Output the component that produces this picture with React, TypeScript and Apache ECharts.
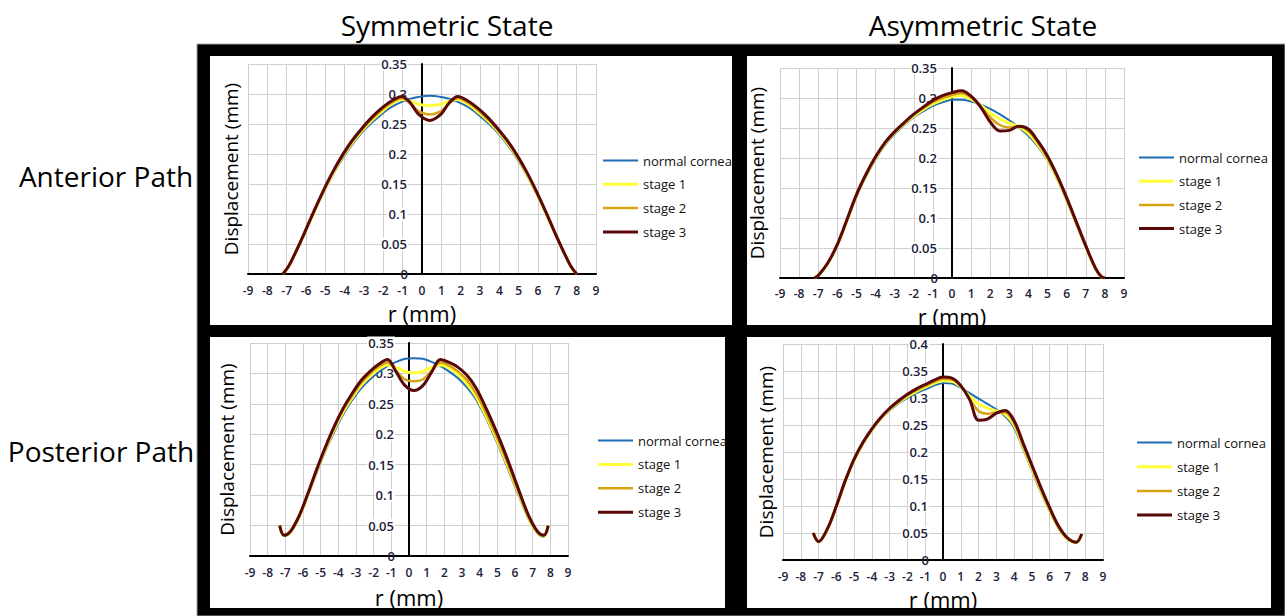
import React, { useEffect, useRef } from "react";
import * as echarts from "echarts";

const FONT = "'Open Sans', 'Noto Sans', sans-serif";

const seriesNames = ["normal cornea", "stage 1", "stage 2", "stage 3"];
const columnTitles = ["Symmetric State", "Asymmetric State"];
const rowTitles = ["Anterior Path", "Posterior Path"];
const xAxisTitle = "r (mm)";
const yAxisTitle = "Displacement (mm)";
const xRange = [-9, 9];
const xStep = 1;
const yStep = 0.05;
const yMaxes = [0.35, 0.35, 0.35, 0.4];

// ---- Symmetric state, anterior path ----
const symAntX = [-7.2, -6.9, -6.6, -6.1, -5.6, -5.1, -4.6, -4.1, -3.6, -3.1, -2.6, -2.1, -1.6, -1.05, -0.6, -0.2, 0.4, 1.0, 1.4, 1.85, 2.4, 2.9, 3.4, 3.9, 4.4, 4.9, 5.4, 5.9, 6.4, 6.9, 7.4, 7.7, 8.0];
const symAntNormal = [0, 0.012, 0.031, 0.065, 0.101, 0.135, 0.166, 0.193, 0.216, 0.236, 0.252, 0.266, 0.278, 0.287, 0.292, 0.295, 0.297, 0.295, 0.292, 0.287, 0.278, 0.266, 0.252, 0.236, 0.216, 0.193, 0.166, 0.135, 0.101, 0.065, 0.031, 0.012, 0];
const symAntStage1 = [0, 0.012, 0.032, 0.066, 0.102, 0.137, 0.168, 0.196, 0.219, 0.239, 0.256, 0.27, 0.283, 0.291, 0.288, 0.283, 0.281, 0.283, 0.288, 0.291, 0.283, 0.27, 0.256, 0.239, 0.219, 0.196, 0.168, 0.137, 0.102, 0.066, 0.032, 0.012, 0];
const symAntStage2 = [0, 0.013, 0.032, 0.067, 0.103, 0.138, 0.17, 0.197, 0.221, 0.241, 0.258, 0.273, 0.285, 0.293, 0.284, 0.272, 0.266, 0.272, 0.284, 0.293, 0.285, 0.273, 0.258, 0.241, 0.221, 0.197, 0.17, 0.138, 0.103, 0.067, 0.032, 0.013, 0];
const symAntStage3 = [0, 0.013, 0.032, 0.067, 0.104, 0.139, 0.171, 0.199, 0.223, 0.243, 0.261, 0.276, 0.288, 0.296, 0.285, 0.267, 0.256, 0.267, 0.285, 0.296, 0.288, 0.276, 0.261, 0.243, 0.223, 0.199, 0.171, 0.139, 0.104, 0.067, 0.032, 0.013, 0];

// ---- Asymmetric state, anterior path ----
const asymAntX = [-7.2, -7.0, -6.5, -6.0, -5.5, -5.0, -4.5, -4.0, -3.5, -3.0, -2.5, -2.0, -1.5, -1.0, -0.5, 0, 0.5, 1.0, 1.5, 2.0, 2.5, 3.0, 3.5, 4.0, 4.5, 5.0, 5.5, 6.0, 6.5, 7.0, 7.5, 7.8, 8.0];
const asymAntNormal = [0, 0.004, 0.024, 0.054, 0.094, 0.135, 0.169, 0.198, 0.222, 0.24, 0.255, 0.268, 0.278, 0.287, 0.293, 0.297, 0.297, 0.294, 0.289, 0.282, 0.273, 0.263, 0.251, 0.237, 0.219, 0.196, 0.165, 0.129, 0.09, 0.051, 0.016, 0.002, 0];
const asymAntStage1 = [0, 0.004, 0.024, 0.055, 0.095, 0.137, 0.171, 0.2, 0.224, 0.242, 0.257, 0.27, 0.281, 0.29, 0.297, 0.302, 0.304, 0.298, 0.288, 0.275, 0.265, 0.258, 0.252, 0.241, 0.222, 0.198, 0.167, 0.131, 0.092, 0.052, 0.016, 0.002, 0];
const asymAntStage2 = [0, 0.004, 0.025, 0.055, 0.096, 0.138, 0.172, 0.201, 0.225, 0.243, 0.258, 0.272, 0.283, 0.293, 0.3, 0.305, 0.308, 0.301, 0.285, 0.268, 0.255, 0.251, 0.253, 0.245, 0.225, 0.2, 0.169, 0.132, 0.093, 0.053, 0.016, 0.002, 0];
const asymAntStage3 = [0, 0.004, 0.025, 0.056, 0.097, 0.139, 0.173, 0.202, 0.226, 0.244, 0.259, 0.273, 0.285, 0.296, 0.304, 0.309, 0.312, 0.303, 0.285, 0.26, 0.245, 0.246, 0.253, 0.248, 0.228, 0.203, 0.171, 0.134, 0.094, 0.054, 0.017, 0.003, 0];

// ---- Symmetric state, posterior path ----
const symPostX = [-7.32, -7.07, -6.72, -6.22, -5.72, -5.22, -4.72, -4.22, -3.72, -3.22, -2.72, -2.22, -1.72, -1.22, -0.72, -0.22, 0.28, 0.78, 1.28, 1.78, 2.28, 2.78, 3.28, 3.78, 4.28, 4.78, 5.28, 5.78, 6.28, 6.78, 7.28, 7.63, 7.88];
const symPostNormal = [0.048, 0.033, 0.038, 0.063, 0.099, 0.137, 0.173, 0.205, 0.233, 0.256, 0.275, 0.29, 0.302, 0.312, 0.319, 0.324, 0.325, 0.324, 0.319, 0.312, 0.303, 0.292, 0.277, 0.258, 0.231, 0.2, 0.166, 0.13, 0.094, 0.06, 0.037, 0.032, 0.047];
const symPostStage1 = [0.049, 0.034, 0.039, 0.064, 0.101, 0.14, 0.176, 0.209, 0.237, 0.26, 0.28, 0.295, 0.307, 0.314, 0.31, 0.303, 0.301, 0.303, 0.31, 0.314, 0.309, 0.298, 0.283, 0.263, 0.235, 0.204, 0.17, 0.134, 0.097, 0.062, 0.038, 0.033, 0.048];
const symPostStage2 = [0.05, 0.034, 0.04, 0.065, 0.102, 0.141, 0.178, 0.211, 0.24, 0.263, 0.284, 0.299, 0.311, 0.318, 0.304, 0.29, 0.287, 0.29, 0.304, 0.318, 0.313, 0.303, 0.289, 0.268, 0.24, 0.208, 0.174, 0.137, 0.099, 0.063, 0.039, 0.034, 0.049];
const symPostStage3 = [0.05, 0.034, 0.04, 0.066, 0.103, 0.143, 0.18, 0.214, 0.243, 0.267, 0.288, 0.303, 0.315, 0.323, 0.302, 0.28, 0.272, 0.28, 0.302, 0.323, 0.318, 0.31, 0.297, 0.277, 0.248, 0.216, 0.181, 0.143, 0.103, 0.066, 0.04, 0.034, 0.05];

// ---- Asymmetric state, posterior path ----
const asymPostX = [-7.3, -7.0, -6.5, -6.0, -5.5, -5.0, -4.5, -4.0, -3.5, -3.0, -2.5, -2.0, -1.5, -1.0, -0.5, 0, 0.5, 1.0, 1.5, 2.0, 2.5, 3.0, 3.5, 4.0, 4.5, 5.0, 5.5, 6.0, 6.5, 7.0, 7.5, 7.8];
const asymPostNormal = [0.05, 0.034, 0.057, 0.098, 0.144, 0.184, 0.215, 0.24, 0.261, 0.277, 0.29, 0.3, 0.309, 0.316, 0.323, 0.328, 0.327, 0.319, 0.309, 0.299, 0.289, 0.279, 0.266, 0.245, 0.206, 0.166, 0.126, 0.09, 0.058, 0.038, 0.032, 0.047];
const asymPostStage1 = [0.05, 0.034, 0.057, 0.099, 0.145, 0.185, 0.216, 0.241, 0.262, 0.279, 0.292, 0.303, 0.312, 0.32, 0.327, 0.332, 0.331, 0.321, 0.303, 0.289, 0.281, 0.276, 0.27, 0.25, 0.21, 0.169, 0.129, 0.092, 0.06, 0.039, 0.032, 0.047];
const asymPostStage2 = [0.05, 0.034, 0.058, 0.1, 0.146, 0.186, 0.217, 0.242, 0.263, 0.28, 0.293, 0.305, 0.314, 0.322, 0.33, 0.335, 0.334, 0.322, 0.298, 0.276, 0.271, 0.273, 0.273, 0.253, 0.213, 0.172, 0.131, 0.094, 0.061, 0.04, 0.033, 0.048];
const asymPostStage3 = [0.05, 0.034, 0.058, 0.1, 0.147, 0.187, 0.218, 0.243, 0.264, 0.281, 0.295, 0.307, 0.317, 0.325, 0.333, 0.339, 0.337, 0.323, 0.297, 0.259, 0.261, 0.272, 0.277, 0.258, 0.217, 0.176, 0.135, 0.097, 0.063, 0.041, 0.033, 0.048];

const panelData = [
  { xs: symAntX, ys: [symAntNormal, symAntStage1, symAntStage2, symAntStage3] },
  { xs: asymAntX, ys: [asymAntNormal, asymAntStage1, asymAntStage2, asymAntStage3] },
  { xs: symPostX, ys: [symPostNormal, symPostStage1, symPostStage2, symPostStage3] },
  { xs: asymPostX, ys: [asymPostNormal, asymPostStage1, asymPostStage2, asymPostStage3] },
];

// ---- styles / layout ----
const seriesColors = ["#1f6db3", "#ffff3a", "#d6a312", "#5a0808"];
const seriesWidths = [2, 3, 2.5, 3];
const tickColor = "#22223a";

const panelLayout = [
  { grid: { left: 248, top: 64, width: 348, height: 210 }, legend: { left: 603, top: 154, gap: 10.8 }, xLabelMargin: 10, xNameGap: 28, yNameGap: 182 },
  { grid: { left: 780, top: 68, width: 344, height: 210 }, legend: { left: 1139, top: 151, gap: 10.7 }, xLabelMargin: 9, xNameGap: 27, yNameGap: 186 },
  { grid: { left: 250, top: 343, width: 318, height: 213 }, legend: { left: 598, top: 434, gap: 10.9 }, xLabelMargin: 10, xNameGap: 30, yNameGap: 173 },
  { grid: { left: 783, top: 344, width: 320, height: 216 }, legend: { left: 1137, top: 436, gap: 11.2 }, xLabelMargin: 10, xNameGap: 28, yNameGap: 168 },
];

const panelBoxes = [
  { x: 210, y: 56, w: 522, h: 269 },
  { x: 747, y: 56, w: 525, h: 269 },
  { x: 210, y: 337, w: 515, h: 271 },
  { x: 747, y: 337, w: 524, h: 271 },
];

function buildOption() {
  const grids: any[] = [];
  const xAxes: any[] = [];
  const yAxes: any[] = [];
  const legends: any[] = [];
  const series: any[] = [];

  panelLayout.forEach((p, i) => {
    grids.push({ ...p.grid, containLabel: false });
    // distance from grid's left edge to x = 0
    const zeroOffset = (p.grid.width * (0 - xRange[0])) / (xRange[1] - xRange[0]);
    xAxes.push({
      gridIndex: i,
      type: "value",
      min: xRange[0],
      max: xRange[1],
      interval: xStep,
      z: 0,
      axisLine: { show: true, onZero: false, lineStyle: { color: "#000", width: 2 } },
      axisTick: { show: false },
      axisLabel: { margin: p.xLabelMargin, fontSize: 12, fontWeight: 600, color: tickColor, fontFamily: FONT },
      splitLine: { show: true, lineStyle: { color: "#cfcfcf", width: 1 } },
      name: xAxisTitle,
      nameLocation: "middle",
      nameGap: p.xNameGap,
      nameTextStyle: { fontSize: 22, color: "#000", fontFamily: FONT, lineHeight: 22 },
    });
    yAxes.push({
      gridIndex: i,
      type: "value",
      position: "left",
      offset: -zeroOffset,
      min: 0,
      max: yMaxes[i],
      interval: yStep,
      z: 1,
      axisLine: { show: true, onZero: false, lineStyle: { color: "#000", width: 2 } },
      axisTick: { show: false },
      axisLabel: {
        margin: 14,
        fontSize: 13,
        fontWeight: 600,
        color: tickColor,
        fontFamily: FONT,
        formatter: (v: number) => {
          const s = String(parseFloat(v.toFixed(2)));
          return v === 0 ? `{z|${s}}` : `{b|${s}}`;
        },
        rich: {
          b: { backgroundColor: "#fff", padding: [0, 1], fontSize: 13, fontWeight: 600, color: tickColor, fontFamily: FONT },
          z: { fontSize: 13, fontWeight: 600, color: tickColor, fontFamily: FONT },
        },
      },
      splitLine: { show: true, showMinLine: false, lineStyle: { color: "#cfcfcf", width: 1 } },
      name: yAxisTitle,
      nameLocation: "middle",
      nameRotate: 90,
      nameGap: p.yNameGap,
      nameTextStyle: { fontSize: 19, color: "#000", fontFamily: FONT },
    });
    legends.push({
      orient: "vertical",
      left: p.legend.left,
      top: p.legend.top,
      padding: 0,
      itemWidth: 35,
      itemHeight: 14,
      itemGap: p.legend.gap,
      selectedMode: false,
      symbolKeepAspect: true,
      data: seriesNames.map((name, k) => ({
        name,
        icon: `path://M0 0H35V${seriesWidths[k]}H0Z`,
      })),
      textStyle: { fontSize: 13, color: "#111", fontFamily: FONT },
    });
    const d = panelData[i];
    seriesNames.forEach((name, k) => {
      series.push({
        type: "line",
        name,
        xAxisIndex: i,
        yAxisIndex: i,
        data: d.xs.map((x, j) => [x, d.ys[k][j]]),
        smooth: 0.35,
        symbol: "none",
        z: 2 + k,
        lineStyle: { color: seriesColors[k], width: seriesWidths[k] },
        itemStyle: { color: seriesColors[k] },
      });
    });
  });

  const titleStyle = { fontSize: 28, fontFamily: FONT, fill: "#000", align: "center", verticalAlign: "middle" };
  const graphic: any[] = [
    {
      type: "rect",
      silent: true,
      z: -10,
      shape: { x: 197, y: 44, width: 1088, height: 572 },
      style: { fill: "#000", stroke: "#a0a0a0", lineWidth: 1 },
    },
    ...panelBoxes.map((b) => ({
      type: "rect",
      silent: true,
      z: -9,
      shape: { x: b.x, y: b.y, width: b.w, height: b.h },
      style: { fill: "#fff" },
    })),
    { type: "text", silent: true, x: 447, y: 25, style: { ...titleStyle, text: columnTitles[0] } },
    { type: "text", silent: true, x: 983, y: 25, style: { ...titleStyle, text: columnTitles[1] } },
    { type: "text", silent: true, x: 106, y: 176, style: { ...titleStyle, text: rowTitles[0] } },
    { type: "text", silent: true, x: 101, y: 451, style: { ...titleStyle, text: rowTitles[1] } },
  ];

  return {
    animation: false,
    backgroundColor: "#fff",
    textStyle: { fontFamily: FONT },
    grid: grids,
    xAxis: xAxes,
    yAxis: yAxes,
    legend: legends,
    series,
    graphic,
  };
}

export default function App() {
  const ref = useRef<HTMLDivElement>(null);
  useEffect(() => {
    if (!ref.current) return;
    const chart = echarts.init(ref.current, undefined, { renderer: "svg" });
    chart.setOption(buildOption() as any);
    return () => chart.dispose();
  }, []);
  return (
    <div
      ref={ref}
      style={{ position: "fixed", left: 0, top: 0, width: 1285, height: 616, background: "#fff" }}
    />
  );
}
